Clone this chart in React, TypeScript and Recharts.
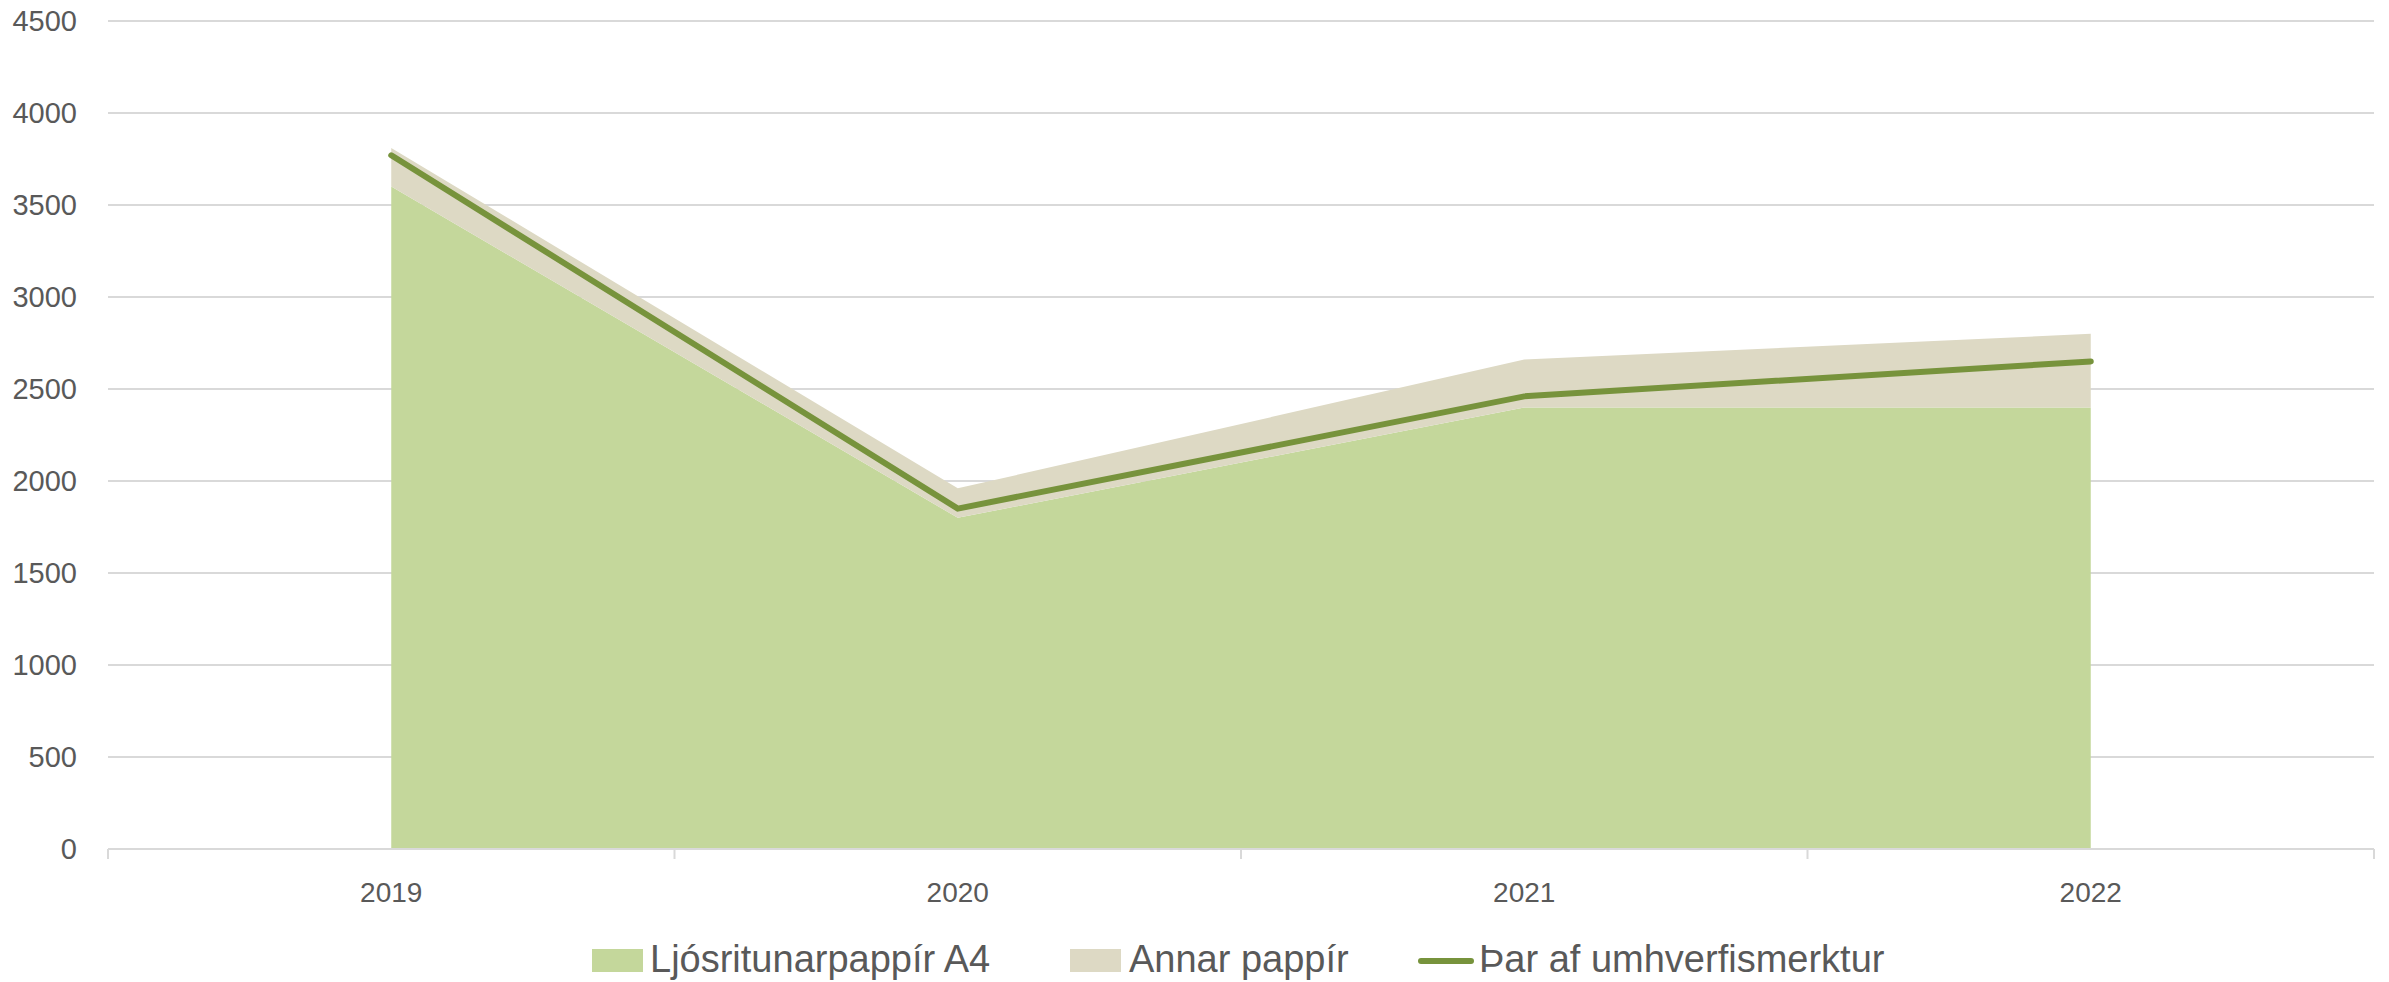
import React from "react";
import {
  ComposedChart,
  Area,
  Line,
  XAxis,
  YAxis,
  CartesianGrid,
} from "recharts";

const YEARS = ["2019", "2020", "2021", "2022"];
const LJOSRITUNAR = [3600, 1800, 2400, 2400];
const ANNAR = [210, 160, 260, 400];
const UMHVERFIS = [3770, 1850, 2460, 2650];
const Y_TICKS = [0, 500, 1000, 1500, 2000, 2500, 3000, 3500, 4000, 4500];

const data = YEARS.map((year, i) => ({
  year,
  ljos: LJOSRITUNAR[i],
  annar: ANNAR[i],
  umhv: UMHVERFIS[i],
}));

const W = 2389;
const H = 982;
const PLOT_LEFT = 108;
const PLOT_RIGHT = 2374;
const PLOT_BOTTOM = 849;
const X_AXIS_H = 60;
const HALF_BAND = (PLOT_RIGHT - PLOT_LEFT) / YEARS.length / 2;

const GREEN = "#C4D79B";
const TAN = "#DDD9C4";
const LINE = "#77933C";
const GRID = "#D9D9D9";
const TEXT = "#595959";
const FONT = "'Liberation Sans', Arial, sans-serif";

// category label + Excel-style tick marks between categories
const XTick = ({ x, payload, index }: any) => (
  <g>
    <line x1={x - HALF_BAND} x2={x - HALF_BAND} y1={PLOT_BOTTOM} y2={PLOT_BOTTOM + 10} stroke={GRID} strokeWidth={2} />
    {index === YEARS.length - 1 && (
      <line x1={x + HALF_BAND} x2={x + HALF_BAND} y1={PLOT_BOTTOM} y2={PLOT_BOTTOM + 10} stroke={GRID} strokeWidth={2} />
    )}
    <text x={x} y={PLOT_BOTTOM + 53} textAnchor="middle" fill={TEXT} fontSize={28} fontFamily={FONT}>
      {payload.value}
    </text>
  </g>
);

const legendText: React.CSSProperties = {
  position: "absolute",
  top: 940,
  fontSize: 38,
  lineHeight: "38px",
  color: TEXT,
  fontFamily: FONT,
  whiteSpace: "nowrap",
};

export default function App() {
  return (
    <div style={{ position: "relative", width: W, height: H, background: "#fff" }}>
      <style>{`body{margin:0}`}</style>
      <ComposedChart
        width={W}
        height={H}
        data={data}
        margin={{ top: 21, right: W - PLOT_RIGHT, left: 0, bottom: H - PLOT_BOTTOM - X_AXIS_H }}
      >
        <CartesianGrid vertical={false} stroke={GRID} strokeWidth={2} />
        <XAxis
          dataKey="year"
          scale="point"
          padding={{ left: HALF_BAND, right: HALF_BAND }}
          axisLine={{ stroke: GRID, strokeWidth: 2 }}
          tickLine={false}
          tick={<XTick />}
          interval={0}
          height={X_AXIS_H}
        />
        <YAxis
          domain={[0, 4500]}
          ticks={Y_TICKS}
          interval={0}
          width={PLOT_LEFT}
          axisLine={false}
          tickLine={false}
          tickSize={0}
          tickMargin={31}
          tick={{ fontSize: 29, fill: TEXT, fontFamily: FONT }}
        />
        <Area
          type="linear"
          dataKey="ljos"
          stackId="1"
          stroke="none"
          fill={GREEN}
          fillOpacity={1}
          isAnimationActive={false}
        />
        <Area
          type="linear"
          dataKey="annar"
          stackId="1"
          stroke="none"
          fill={TAN}
          fillOpacity={1}
          isAnimationActive={false}
        />
        <Line
          type="linear"
          dataKey="umhv"
          stroke={LINE}
          strokeWidth={6}
          strokeLinecap="round"
          dot={false}
          activeDot={false}
          isAnimationActive={false}
        />
      </ComposedChart>

      {/* Legend */}
      <div style={{ position: "absolute", left: 592, top: 949, width: 51, height: 23, background: GREEN }} />
      <div style={{ ...legendText, left: 650 }}>Ljósritunarpappír A4</div>
      <div style={{ position: "absolute", left: 1070, top: 949, width: 51, height: 23, background: TAN }} />
      <div style={{ ...legendText, left: 1129 }}>Annar pappír</div>
      <div style={{ position: "absolute", left: 1418, top: 958, width: 56, height: 6, borderRadius: 3, background: LINE }} />
      <div style={{ ...legendText, left: 1479 }}>Þar af umhverfismerktur</div>
    </div>
  );
}
